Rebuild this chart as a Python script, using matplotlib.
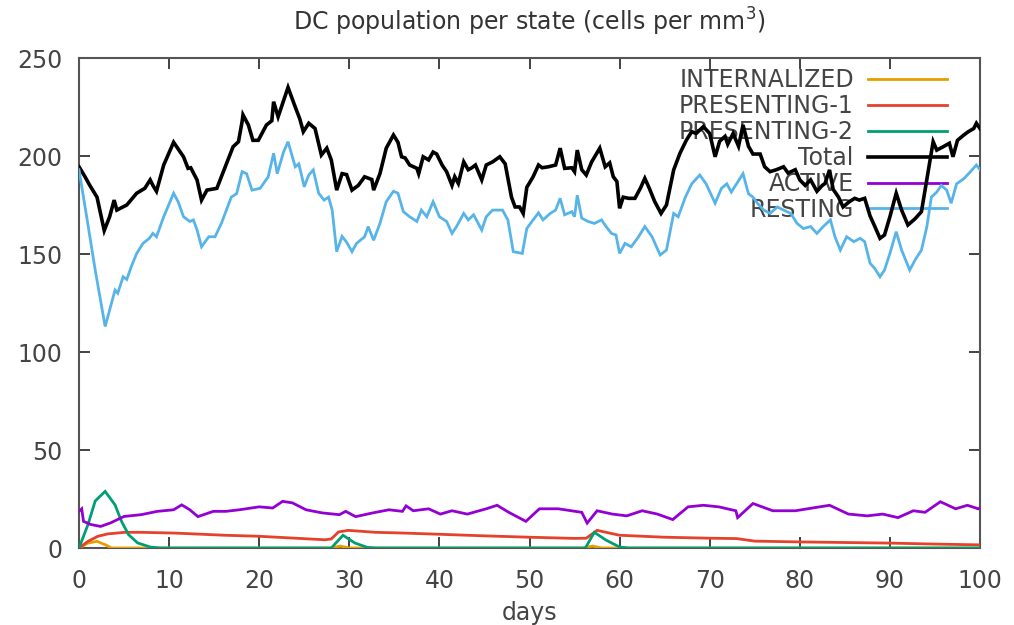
import matplotlib
matplotlib.use("Agg")
import matplotlib.pyplot as plt

# ---- data ----
total_x = [0, 0.67, 1.2, 2.0, 2.8, 3.4, 3.9, 4.2, 5.3, 6.4, 7.3, 7.9, 8.2, 8.6, 9.4, 10.5, 11.6, 12.1, 12.4,
           13.1, 13.6, 14.2, 15.3, 15.8, 17.1, 17.7, 18.1, 18.2, 18.8, 19.3, 19.9, 20.8, 21.4, 21.6, 22.1,
           23.2, 24.0, 24.5, 24.9, 25.5, 26.2, 26.9, 27.5, 28.0, 28.6, 29.2, 29.7, 30.3, 31.0, 31.7, 32.5,
           32.7, 33.4, 34.1, 34.9, 35.4, 35.8, 36.2, 36.7, 37.5, 37.7, 38.2, 38.8, 39.3, 39.7, 40.3, 40.8,
           41.4, 41.7, 42.1, 42.7, 43.2, 43.6, 44.0, 44.7, 45.2, 45.9, 46.7, 47.3, 48.0, 48.4, 48.9, 49.3,
           49.7, 50.4, 51.0, 51.4, 52.1, 52.9, 53.4, 53.9, 54.7, 55.0, 55.3, 55.8, 56.3, 56.9, 57.8, 58.4,
           58.9, 59.3, 59.7, 60.0, 60.4, 61.0, 61.7, 62.3, 62.8, 63.3, 63.9, 64.6, 65.2, 66.0, 66.7, 67.4,
           68.0, 68.5, 69.3, 70.0, 70.6, 71.1, 71.7, 72.0, 72.6, 73.2, 73.7, 74.3, 74.8, 75.6, 76.1, 76.7,
           77.4, 78.2, 78.7, 79.5, 80.0, 80.6, 81.2, 81.9, 82.5, 82.8, 83.3, 83.7, 84.3, 84.8, 85.5, 86.1,
           86.6, 87.2, 87.8, 88.3, 88.9, 89.4, 90.0, 90.7, 91.3, 92.0, 92.8, 93.5, 93.9, 94.5, 94.8, 95.2,
           95.9, 96.6, 97.0, 97.5, 98.2, 98.7, 99.3, 99.6, 100]
total_y = [194.5, 189.4, 185, 179, 162, 169, 177.5, 172.4, 175, 181, 183.5, 187.8, 185, 182, 195.4, 207, 199.6,
           193.7, 194, 187.8, 177.5, 182.6, 183.5, 189.4, 204.7, 207.3, 217.5, 221, 215.8, 208, 208, 215.8,
           218, 227.7, 220, 235, 225, 219, 212.4, 216.7, 214, 200.5, 204, 198, 182.6, 191, 190.5, 182.6, 185,
           189.4, 188, 182.6, 191, 204, 210.7, 207, 199.6, 199, 195.4, 193.7, 191, 199.6, 198, 202, 201,
           195.4, 192, 185, 189.4, 186, 197, 193, 194, 195.4, 187.8, 195.4, 197, 199.6, 196, 179, 174, 174,
           170.7, 184, 189.4, 195.4, 194, 194.5, 195.4, 204, 193.7, 194, 192, 203, 193, 190.3, 197, 204,
           194.5, 196.5, 189.4, 187, 173.3, 179, 178.4, 178.4, 183.5, 188.6, 183.5, 176.7, 170.7, 175, 192.9,
           201.4, 208, 212.4, 211.5, 215, 211.5, 199.6, 207.5, 210, 206, 211.5, 205, 215.8, 205, 201, 201,
           194.5, 192, 193, 194.5, 191.3, 193, 187.8, 185, 187.8, 182, 185, 186, 192.9, 183, 179, 174, 176.7,
           178.4, 177.5, 178.4, 169.4, 164.3, 158, 159.7, 169, 181, 172.4, 164.8, 168, 171.6, 182.6, 198.8,
           207.3, 203, 204.7, 206.5, 199.6, 208, 210.7, 212.4, 214, 216.7, 214]

resting_x = [0, 0.85, 1.8, 2.9, 3.6, 4.0, 4.3, 4.9, 5.3, 5.8, 6.4, 7.1, 7.8, 8.2, 8.6, 9.4, 10.5, 11.0, 11.6,
             12.3, 12.7, 13.1, 13.6, 14.4, 15.1, 15.8, 16.9, 17.5, 18.1, 18.6, 19.2, 20.1, 21.0, 21.6, 22.0,
             22.7, 23.2, 24.0, 24.4, 25.0, 25.5, 26.0, 26.6, 27.2, 27.7, 28.1, 28.6, 29.2, 29.7, 30.3, 30.8,
             31.7, 32.1, 32.7, 33.4, 34.1, 34.9, 35.4, 36.0, 36.7, 37.5, 38.0, 38.6, 39.3, 40.0, 40.8, 41.4,
             41.9, 42.7, 43.2, 43.8, 44.7, 45.2, 45.9, 47.0, 47.6, 48.2, 49.2, 49.7, 50.4, 51.0, 51.5, 52.3,
             52.9, 53.4, 53.9, 54.7, 55.0, 55.3, 55.8, 56.5, 57.2, 58.0, 58.5, 59.1, 59.6, 60.0, 60.6, 61.3,
             62.1, 62.8, 63.6, 64.5, 65.2, 66.0, 66.5, 67.3, 68.0, 68.9, 69.6, 70.6, 71.3, 71.9, 72.4, 73.2,
             73.7, 74.3, 74.8, 75.3, 76.0, 76.7, 77.5, 78.2, 79.0, 79.7, 80.4, 81.2, 81.9, 82.6, 83.4, 83.9,
             84.5, 85.2, 86.0, 86.7, 87.2, 87.8, 88.3, 88.9, 89.4, 90.0, 90.7, 91.3, 92.2, 92.8, 93.5, 94.1,
             94.6, 95.2, 95.7, 96.3, 96.8, 97.4, 98.2, 98.9, 99.6, 100]
resting_y = [193, 169, 141.8, 113, 124.8, 131.6, 130, 138.4, 137, 143.5, 150.3, 155.4, 158, 160.5, 158.8, 169,
             181, 176.7, 169, 166.6, 167.4, 162.3, 153.7, 158.8, 158.8, 165.6, 179, 180.8, 192, 191, 182.6,
             183.5, 189.4, 201.4, 191, 202, 207.3, 194.5, 196, 184.3, 190.3, 192.9, 181, 177.5, 179, 172.4,
             151.2, 159, 156, 151.2, 155.4, 158.8, 164, 157, 165.6, 176.7, 182, 181, 171.6, 169, 166.6, 172.4,
             169, 176.7, 169, 166.6, 160.5, 164, 170.7, 167.4, 170, 162.2, 169, 172.4, 172.4, 167.4, 151.2,
             150.3, 163, 167.4, 171, 167.4, 170.7, 172.4, 178.4, 170, 171.6, 169, 180, 168.3, 166.6, 165.6,
             167.4, 164, 160.5, 159.7, 150.3, 155.4, 153.7, 158.8, 164, 158.8, 149.5, 152, 170.7, 169, 179,
             185.8, 190.3, 185.8, 175.9, 183.5, 185.8, 181.6, 187.4, 191, 180.8, 179, 175.9, 172.4, 170.7,
             174, 172.4, 170.7, 165.6, 163, 164, 160.5, 164, 167.4, 158.8, 152, 158.8, 156.3, 158, 156.3,
             145.3, 142.7, 138.4, 141.8, 150.3, 161.4, 152, 141.8, 147, 152, 163.9, 179, 181.6, 185, 182.6,
             175.9, 185.8, 188.4, 191.8, 195.4, 193]

active_x = [0, 0.3, 0.5, 1.3, 2.4, 3.5, 5.0, 6.9, 8.7, 10.5, 11.4, 12.3, 13.2, 14.9, 16.3, 17.8, 20.0, 21.5,
            22.6, 23.7, 25.2, 27.0, 28.9, 29.6, 30.7, 32.6, 34.4, 35.9, 36.3, 37.1, 38.8, 40.1, 41.4, 43.1,
            45.2, 46.4, 47.7, 49.6, 51.1, 53.2, 55.8, 56.4, 57.5, 59.2, 60.8, 62.5, 64.2, 65.9, 67.6, 69.3,
            71.0, 72.9, 73.1, 74.8, 77.0, 79.5, 83.3, 85.4, 87.5, 89.2, 90.9, 92.6, 93.9, 95.6, 97.3, 98.6,
            99.8, 100]
active_y = [18.7, 20, 13.6, 12, 11, 12.8, 16.1, 17, 18.7, 19.5, 22, 19.5, 16, 18.7, 18.7, 19.5, 21, 20.4,
            23.8, 23, 19.5, 17.9, 17, 18.7, 16, 17.9, 19.5, 18.7, 21.5, 19, 20, 17.3, 19, 17.3, 20, 21.8, 18.2,
            13.6, 20, 20, 18.2, 12.7, 19, 17.3, 16.4, 19, 17.3, 14.5, 21, 21.8, 21, 19, 15.5, 22.7, 19, 19,
            21.8, 17.3, 16.4, 17.3, 15.5, 19, 18.2, 23.6, 20, 21.8, 20, 20.5]

pres1_x = [0, 1.0, 2.1, 3.2, 5.1, 6.9, 10.7, 16.2, 19.9, 23.6, 27.3, 28.0, 28.8, 29.9, 32.9, 36.2, 40, 45, 50,
           55, 56.3, 57.5, 60, 65, 70, 73, 75, 80, 85, 90, 95, 100]
pres1_y = [0, 3.4, 6, 7.2, 8, 8, 7.6, 6.5, 6, 5.1, 4.2, 4.6, 8.2, 9, 8, 7.6, 7, 6.2, 5.5, 4.9, 5, 9, 6.5, 5.5,
           5, 4.8, 3.5, 3.1, 2.8, 2.5, 2, 1.6]

pres2_x = [0, 1.0, 1.8, 2.9, 4.0, 4.7, 5.5, 6.5, 7.9, 9, 28.0, 29.3, 30.6, 32, 33, 56.2, 57.2, 58.5, 60, 61, 100]
pres2_y = [0, 12, 24, 28.9, 22, 13.8, 6.8, 2.6, 0.5, 0, 0, 6.5, 2.6, 0.3, 0, 0, 8, 4, 0.5, 0, 0]

intern_x = [0, 1, 2, 3, 3.6, 28, 29, 30, 56, 57, 58, 100]
intern_y = [0, 2.5, 3.4, 1.5, 0, 0, 1, 0, 0, 1, 0, 0]

x_ticks = [0, 10, 20, 30, 40, 50, 60, 70, 80, 90, 100]
y_ticks = [0, 50, 100, 150, 200, 250]

# ---- figure ----
fig = plt.figure(figsize=(10.14, 6.25), dpi=100)
ax = fig.add_axes([79 / 1014, 1 - 548 / 625, (980 - 79) / 1014, (548 - 58) / 625])

series = [
    ("INTERNALIZED", intern_x, intern_y, "#E69F00", 2.0),
    ("PRESENTING-1", pres1_x, pres1_y, "#E5412B", 2.0),
    ("PRESENTING-2", pres2_x, pres2_y, "#009E73", 2.0),
    ("Total", total_x, total_y, "#000000", 2.6),
    ("ACTIVE", active_x, active_y, "#9400D3", 2.0),
    ("RESTING", resting_x, resting_y, "#56B4E9", 2.0),
]
for name, xs, ys, col, lw in series:
    ax.plot(xs, ys, color=col, lw=lw, label=name, zorder=3, solid_joinstyle="miter")

ax.set_xlim(0, 100)
ax.set_ylim(0, 250)
ax.set_xticks(x_ticks)
ax.set_yticks(y_ticks)
ax.tick_params(direction="in", length=8, width=1.2, top=True, right=True,
               labelsize=17, labelcolor="#444444", color="#222222")
ax.tick_params(axis="x", pad=15)
ax.tick_params(axis="y", pad=12)
for sp in ax.spines.values():
    sp.set_color("#555555")
    sp.set_linewidth(1.5)

ax.set_title("DC population per state (cells per mm$^3$)", fontsize=17, color="#333333", pad=20)
ax.set_xlabel("days", fontsize=17, color="#444444", labelpad=6)

leg = ax.legend(loc="upper right", bbox_to_anchor=(0.9634, 0.979), frameon=False, markerfirst=False,
                fontsize=17, handlelength=3.35, handletextpad=0.6, labelspacing=0.08,
                borderaxespad=0.0, borderpad=0.0)
for t in leg.get_texts():
    t.set_color("#444444")
    t.set_ha("right")
leg.set_zorder(1)

fig.savefig("out.png", dpi=100, facecolor="white")
